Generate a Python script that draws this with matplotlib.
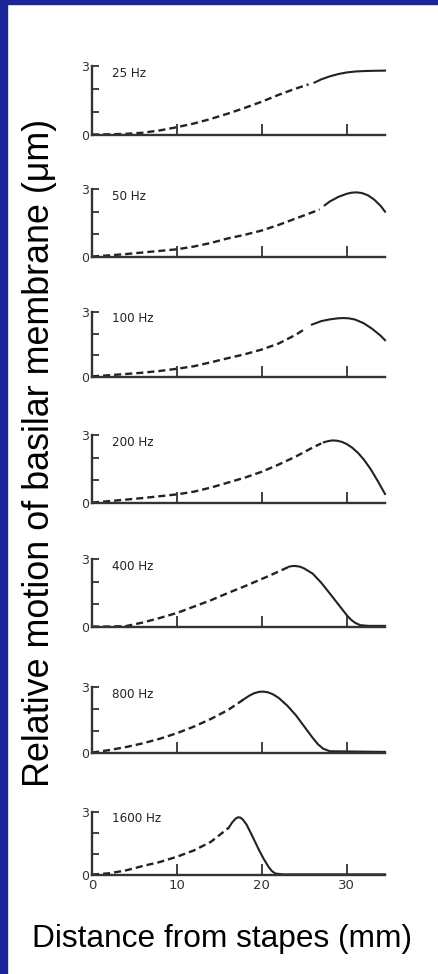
import numpy as np
import matplotlib.pyplot as plt
from matplotlib.patches import Rectangle

# Displacement envelopes along the cochlear partition (von Bekesy style), one per frequency
freqs = ['25 Hz', '50 Hz', '100 Hz', '200 Hz', '400 Hz', '800 Hz', '1600 Hz']

x_25 = [0, 2, 4, 6, 8, 10, 12, 14, 16, 18, 20, 22, 24, 25.5,
        26.2, 27, 28, 29, 30, 31, 32, 33, 34.5]
y_25 = [0.02, 0.03, 0.05, 0.1, 0.2, 0.34, 0.5, 0.7, 0.93, 1.18, 1.45, 1.75, 2.02, 2.2,
        2.28, 2.42, 2.55, 2.65, 2.72, 2.76, 2.78, 2.79, 2.8]

x_50 = [0, 2, 4, 6, 8, 10, 12, 14, 16, 18, 20, 22, 24, 26, 26.8,
        27.4, 28, 29, 30, 30.6, 31.2, 31.8, 32.5, 33.2, 34, 34.5]
y_50 = [0.02, 0.07, 0.13, 0.2, 0.27, 0.34, 0.46, 0.62, 0.82, 0.98, 1.17, 1.42, 1.7, 1.98, 2.1,
        2.28, 2.45, 2.65, 2.79, 2.84, 2.85, 2.82, 2.72, 2.54, 2.25, 2.0]

x_100 = [0, 2, 4, 6, 8, 10, 12, 14, 16, 18, 20, 22, 24, 25,
         25.9, 27, 28, 29, 29.6, 30.2, 31, 32, 33, 34, 34.5]
y_100 = [0.03, 0.08, 0.14, 0.2, 0.28, 0.38, 0.5, 0.68, 0.87, 1.05, 1.27, 1.55, 1.95, 2.2,
         2.42, 2.58, 2.66, 2.71, 2.72, 2.71, 2.65, 2.48, 2.22, 1.9, 1.7]

x_200 = [0, 2, 4, 6, 8, 10, 12, 14, 16, 18, 20, 22, 24, 26, 27,
         27.3, 27.8, 28.3, 28.8, 29.4, 30, 30.6, 31.3, 32, 32.8, 33.6, 34.5]
y_200 = [0.02, 0.08, 0.15, 0.22, 0.3, 0.38, 0.5, 0.68, 0.9, 1.12, 1.38, 1.7, 2.05, 2.45, 2.63,
         2.68, 2.73, 2.76, 2.75, 2.7, 2.6, 2.45, 2.22, 1.92, 1.5, 1.0, 0.4]

x_400 = [0, 2, 4, 6, 8, 10, 12, 14, 16, 18, 20, 22, 23.2,
         23.6, 24, 24.5, 25, 26, 27, 28, 29, 30, 30.5, 31, 31.6, 32.5, 34.5]
y_400 = [0.02, 0.02, 0.04, 0.2, 0.4, 0.62, 0.9, 1.18, 1.5, 1.8, 2.12, 2.45, 2.66,
         2.69, 2.69, 2.66, 2.58, 2.35, 1.95, 1.48, 1.0, 0.52, 0.32, 0.18, 0.08, 0.05, 0.05]

x_800 = [0, 2, 4, 6, 8, 10, 12, 14, 16, 17.8,
         18.5, 19.1, 19.7, 20.2, 20.7, 21.3, 22, 23, 24, 25, 26, 26.6, 27.2, 28, 34.5]
y_800 = [0.02, 0.13, 0.27, 0.44, 0.65, 0.9, 1.2, 1.55, 1.95, 2.42,
         2.6, 2.72, 2.78, 2.79, 2.76, 2.67, 2.5, 2.15, 1.72, 1.2, 0.68, 0.4, 0.2, 0.08, 0.05]

x_1600 = [0, 2, 4, 6, 8, 10, 12, 14, 16.1,
          16.5, 16.9, 17.2, 17.5, 17.8, 18.2, 18.7, 19.2, 19.7, 20.2, 20.8, 21.2, 21.6, 22.5, 34.5]
y_1600 = [0.02, 0.08, 0.22, 0.43, 0.62, 0.87, 1.17, 1.58, 2.25,
          2.5, 2.68, 2.75, 2.73, 2.62, 2.4, 2.0, 1.58, 1.16, 0.78, 0.38, 0.18, 0.07, 0.03, 0.03]

xs = [x_25, x_50, x_100, x_200, x_400, x_800, x_1600]
ys = [y_25, y_50, y_100, y_200, y_400, y_800, y_1600]

# where each trace switches from dashed (extrapolated) to solid (measured)
dash_end = [25.5, 26.8, 25, 27, 23.2, 17.8, 16.1]
solid_start = [26.2, 27.4, 25.9, 27.3, 23.2, 17.8, 16.1]

x_ticks = [0, 10, 20, 30]
y_ticks = [0, 1, 2, 3]

W, H = 438, 974
fig = plt.figure(figsize=(W / 100, H / 100), dpi=100)
fig.patch.set_facecolor('white')

# blue slide frame (top and left edges)
blue = '#1b2597'
fig.patches.append(Rectangle((0, 1 - 4 / H), 1, 4 / H, transform=fig.transFigure,
                             color=blue, zorder=0))
fig.patches.append(Rectangle((0, 0), 7 / W, 1, transform=fig.transFigure,
                             color=blue, zorder=0))

# panel rows in pixels: (top of scale "3", baseline "0")
rows = [(66, 135), (189, 257), (312, 377), (435, 503), (559, 627), (687, 753), (812, 875)]
left_px, right_px = 92, 385
ink = '#222222'

for i, (top, base) in enumerate(rows):
    ax = fig.add_axes([left_px / W, 1 - base / H, (right_px - left_px) / W, (base - top) / H])
    ax.set_xlim(0, 34.5)
    ax.set_ylim(0, 3)
    ax.patch.set_alpha(0)
    for s in ['top', 'right']:
        ax.spines[s].set_visible(False)
    for s in ['left', 'bottom']:
        ax.spines[s].set_linewidth(1.7)
        ax.spines[s].set_color('#333333')

    x = np.array(xs[i])
    y = np.array(ys[i])
    d = x <= dash_end[i]
    s = x >= solid_start[i]
    ax.plot(x[d], y[d], color=ink, lw=1.7, dashes=(3.0, 1.7), clip_on=False)
    ax.plot(x[s], y[s], color=ink, lw=1.5, clip_on=False)

    ax.text(2.4, 2.68, freqs[i], fontsize=9.5, family='DejaVu Sans', stretch='condensed',
            ha='left', va='center', color=ink)

    ax.set_yticks(y_ticks)
    ax.set_yticklabels(['0', '', '', '3'])
    ax.tick_params(axis='y', direction='in', length=5, width=1.3, pad=2,
                   labelsize=9, colors='#333333')
    ax.set_xticks(x_ticks)
    if i == len(rows) - 1:
        ax.set_xticklabels([str(t) for t in x_ticks])
    else:
        ax.set_xticklabels([])
    ax.tick_params(axis='x', direction='in', length=8, width=1.3, pad=3,
                   labelsize=9.5, colors='#333333')

fig.text(40 / W, 1 - 453 / H, 'Relative motion of basilar membrane (μm)',
         rotation=90, ha='center', va='center', fontsize=25.8,
         family='Liberation Sans', color='black')
fig.text(222 / W, 1 - 947 / H, 'Distance from stapes (mm)',
         ha='center', va='baseline', fontsize=22.8, family='Liberation Sans', color='black')

fig.savefig('out.png', dpi=100)
